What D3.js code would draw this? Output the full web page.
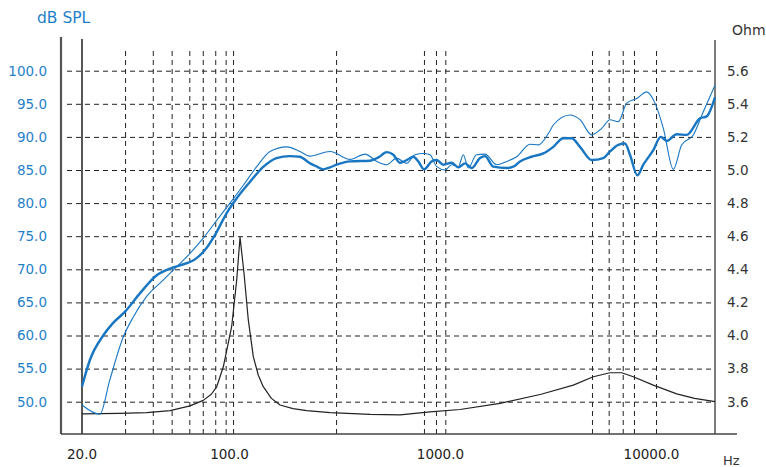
<!DOCTYPE html>
<html>
<head>
<meta charset="utf-8">
<script src="https://cdn.jsdelivr.net/npm/d3@7"></script>
<style>
  body { margin: 0; background: #fff; }
  text { font-family: "DejaVu Sans", Verdana, sans-serif; }
</style>
</head>
<body>
<script>
const width = 766;
const height = 467;

// values: [Hz, dB] and [Hz, Ohm]
const splAxis = [
    [20, 52.3], [21.8, 56.3], [25.2, 60.0], [28.1, 61.9], [32, 63.6], [37.7, 66.4],
    [45.2, 69.1], [52.3, 70.1], [58.3, 70.6], [68.6, 71.5], [76.5, 72.9], [85.4, 75.2],
    [97, 78.5], [108, 80.7], [125, 83.2], [145, 85.5], [167, 86.8], [193, 87.1],
    [215, 87.0], [241, 86.0], [260, 85.5], [278, 85.1], [300, 85.4], [322, 85.8],
    [373, 86.3], [464, 86.4], [508, 86.9], [556, 87.7], [598, 87.3], [643, 86.1],
    [692, 86.5], [743, 87.0], [785, 86.3], [836, 85.1], [909, 86.3], [960, 86.5],
    [1031, 85.8], [1130, 86.1], [1215, 85.4], [1307, 86.0], [1406, 85.3], [1539, 86.8],
    [1626, 87.1], [1780, 85.5], [2060, 85.3], [2214, 85.5], [2382, 86.3], [2700, 87.0],
    [3072, 87.5], [3426, 88.5], [3820, 89.8], [4188, 89.8], [4584, 88.5], [5208, 86.5],
    [5910, 86.8], [6360, 87.8], [6961, 88.8], [7490, 89.0], [7910, 87.3], [8568, 84.2],
    [9146, 85.8], [10200, 88.0], [11060, 90.0], [11810, 89.4], [13170, 90.4],
    [14690, 90.3], [16980, 92.8], [18270, 93.1], [20000, 96.0]
];

const splOff = [
    [20, 49.5], [24.3, 48.1], [27.1, 53.3], [31.4, 59.8], [35.0, 62.8], [40.5, 65.9],
    [48.6, 68.4], [56.2, 70.4], [65, 72.4], [75.1, 74.7], [87, 77.4], [100.6, 80.0],
    [116.3, 82.7], [134.6, 85.5], [155.6, 87.8], [186.7, 88.5], [215.8, 87.8],
    [240, 87.1], [300, 87.8], [373, 86.6], [439, 87.4], [499, 86.3], [556, 85.8],
    [620, 86.8], [692, 86.0], [757, 87.3], [829, 87.5], [892, 87.3], [960, 85.5],
    [1051, 85.0], [1130, 85.8], [1215, 85.5], [1283, 87.3], [1355, 85.3], [1480, 87.3],
    [1626, 87.4], [1847, 85.8], [2060, 86.3], [2298, 87.0], [2656, 88.9], [2909, 88.8],
    [3300, 90.9], [3426, 91.8], [4111, 93.3], [4584, 92.6], [5208, 90.3], [5808, 91.3],
    [6360, 92.6], [6961, 92.3], [7630, 95.1], [8510, 95.8], [9492, 96.8], [10390, 95.1],
    [11380, 91.3], [12690, 85.1], [13910, 88.8], [15790, 90.3], [17600, 93.8], [20000, 97.8]
];

const impedance = [
    [20, 3.526], [30, 3.529], [40.5, 3.534], [52.3, 3.546], [65, 3.575], [75.1, 3.608],
    [82, 3.645], [87, 3.69], [93.5, 3.811], [102.4, 4.053], [108.2, 4.335], [112.2, 4.593],
    [117.2, 4.376], [122.8, 4.094], [129.7, 3.872], [137, 3.76], [144.6, 3.691],
    [158, 3.62], [173.6, 3.58], [200, 3.558], [232.3, 3.546], [300, 3.534], [464, 3.523],
    [643, 3.52], [892, 3.538], [1237, 3.553], [1914, 3.59], [3000, 3.645], [4260, 3.70],
    [5300, 3.751], [6360, 3.775], [7224, 3.775], [8200, 3.751], [10200, 3.70],
    [13170, 3.647], [16000, 3.62], [20000, 3.60]
];

const dbTicks = [50, 55, 60, 65, 70, 75, 80, 85, 90, 95, 100];
const ohmTicks = [3.6, 3.8, 4.0, 4.2, 4.4, 4.6, 4.8, 5.0, 5.2, 5.4, 5.6];
const freqTicks = [20, 100, 1000, 10000];
const gridFreqs = [32, 43.3, 53.2, 64.5, 74.7, 85.6, 95.9, 104, 320, 835, 952, 1054,
    5224, 6268, 7306, 8260, 10508];

const blue = "#1876c2";

const svg = d3.select("body")
    .append("svg")
    .attr("width", width)
    .attr("height", height);

const x = d3.scaleLog()
    .domain([20, 20000])
    .range([82, 715]);

const y = d3.scaleLinear()
    .domain([50, 100])
    .range([401.7, 70.7]);

const yOhm = d3.scaleLinear()
    .domain([3.6, 5.6])
    .range([401.7, 70.7]);

const plotBottom = 434;

// grid
svg.append("g")
    .attr("transform", `translate(67,0)`)
    .call(d3.axisLeft(y).tickValues(dbTicks).tickSize(-(715 - 67)).tickFormat(""))
    .call(g => g.select(".domain").remove())
    .call(g => g.selectAll("line")
        .attr("stroke", "#222")
        .attr("stroke-dasharray", "5,4"));

svg.append("g")
    .attr("transform", `translate(0,${plotBottom})`)
    .call(d3.axisBottom(x).tickValues(gridFreqs).tickSize(-(plotBottom - 47)).tickFormat(""))
    .call(g => g.select(".domain").remove())
    .call(g => g.selectAll("line")
        .attr("stroke", "#222")
        .attr("stroke-dasharray", "5,4"));

// frame
svg.append("line")
    .attr("x1", 61).attr("x2", 61)
    .attr("y1", 37).attr("y2", plotBottom)
    .attr("stroke", "#555").attr("stroke-width", 2.2);

svg.append("line")
    .attr("x1", x(20)).attr("x2", x(20))
    .attr("y1", 39).attr("y2", plotBottom)
    .attr("stroke", "#111").attr("stroke-width", 1.4);

svg.append("line")
    .attr("x1", x(20000)).attr("x2", x(20000))
    .attr("y1", 40).attr("y2", plotBottom)
    .attr("stroke", "#444").attr("stroke-width", 1.4);

svg.append("line")
    .attr("x1", 61).attr("x2", 737)
    .attr("y1", plotBottom).attr("y2", plotBottom)
    .attr("stroke", "#444").attr("stroke-width", 1.6);

// curves
const splLine = d3.line()
    .x(d => x(d[0]))
    .y(d => y(d[1]))
    .curve(d3.curveMonotoneX);

const ohmLine = d3.line()
    .x(d => x(d[0]))
    .y(d => yOhm(d[1]));

svg.append("path")
    .datum(impedance)
    .attr("d", ohmLine)
    .attr("fill", "none")
    .attr("stroke", "#222")
    .attr("stroke-width", 1.2)
    .attr("stroke-linejoin", "round");

svg.append("path")
    .datum(splOff)
    .attr("d", splLine)
    .attr("fill", "none")
    .attr("stroke", blue)
    .attr("stroke-width", 1.1);

svg.append("path")
    .datum(splAxis)
    .attr("d", splLine)
    .attr("fill", "none")
    .attr("stroke", blue)
    .attr("stroke-width", 2.4);

// axis labels
svg.append("g")
    .attr("transform", "translate(47,0)")
    .call(d3.axisLeft(y).tickValues(dbTicks).tickSize(0).tickPadding(0).tickFormat(d3.format(".1f")))
    .call(g => g.select(".domain").remove())
    .call(g => g.selectAll("text")
        .attr("fill", "#1f7fc9")
        .style("font-size", "13.5px")
        .style("font-family", "DejaVu Sans, sans-serif"));

svg.append("g")
    .attr("transform", "translate(727,0)")
    .call(d3.axisRight(yOhm).tickValues(ohmTicks).tickSize(0).tickPadding(0).tickFormat(d3.format(".1f")))
    .call(g => g.select(".domain").remove())
    .call(g => g.selectAll("text")
        .attr("fill", "#333")
        .style("font-size", "13.5px")
        .style("font-family", "DejaVu Sans, sans-serif"));

svg.append("g")
    .selectAll("text")
    .data(freqTicks)
    .enter().append("text")
    .attr("x", d => x(d))
    .attr("y", 459)
    .attr("text-anchor", "middle")
    .attr("fill", "#222")
    .style("font-size", "13.5px")
    .text(d => d3.format(".1f")(d));

svg.append("text")
    .attr("x", 37)
    .attr("y", 23)
    .attr("fill", "#1f7fc9")
    .style("font-size", "15.5px")
    .text("dB SPL");

svg.append("text")
    .attr("x", 732)
    .attr("y", 35)
    .attr("fill", "#333")
    .style("font-size", "14px")
    .text("Ohm");

svg.append("text")
    .attr("x", 723)
    .attr("y", 465)
    .attr("fill", "#333")
    .style("font-size", "13px")
    .text("Hz");
</script>
</body>
</html>
